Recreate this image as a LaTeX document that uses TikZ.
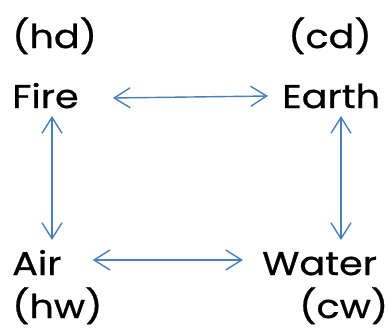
\documentclass[tikz,border=0pt]{standalone}
\usepackage{fontspec}
\setmainfont{Poppins}[FakeStretch=1.16, FakeBold=0.8]
\usetikzlibrary{arrows.meta}
\definecolor{arrblue}{RGB}{74,126,187}
\tikzset{
  lbl/.style={inner sep=0pt, anchor=base west, font=\fontsize{33}{34}\selectfont, text=black},
  arr/.style={draw=arrblue, line width=1.4bp, {Straight Barb[length=16bp,width=20bp,line width=1.4bp]}-{Straight Barb[length=16bp,width=20bp,line width=1.4bp]}},
}
\begin{document}
\begin{tikzpicture}[x=1bp,y=-1bp]
\useasboundingbox (0,0) rectangle (389,333);
\node[lbl] (hd) at (12,48) {(hd)};
\node[lbl] (cd) at (288,48) {(cd)};
\node[lbl] (fire) at (12,108) {Fire};
\node[lbl] (earth) at (282,108) {Earth};
\node[lbl] (air) at (12,275) {Air};
\node[lbl] (water) at (262,275) {Water};
\node[lbl] (hw) at (12,318) {(hw)};
\node[lbl] (cw) at (299,318) {(cw)};
\draw[arr] (fire.east |- 0,98) ++(34,0) coordinate (fe1) (fe1) -- (268,96) coordinate (fe2);
\draw[arr] (air.east |- 0,260) ++(31,0) coordinate (aw1) (aw1) -- (243,260) coordinate (aw2);
\draw[arr] (52,116) coordinate (fa1) -- (52,240) coordinate (fa2);
\draw[arr] (341,116) coordinate (ew1) -- (341,240) coordinate (ew2);
\end{tikzpicture}
\end{document}
